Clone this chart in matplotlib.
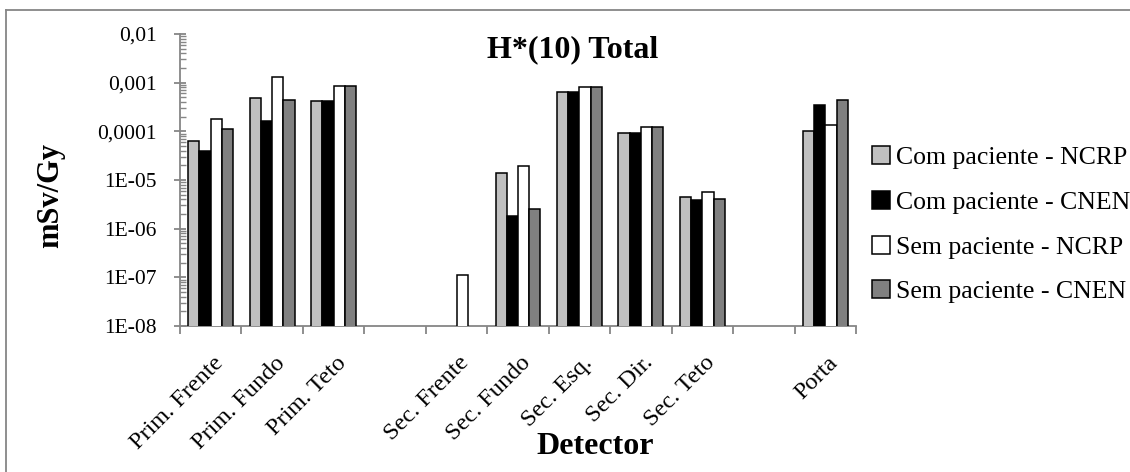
import numpy as np
import matplotlib
matplotlib.use('Agg')
import matplotlib.pyplot as plt
from matplotlib.lines import Line2D
from matplotlib.patches import Patch
from matplotlib.transforms import ScaledTranslation

plt.rcParams['font.family'] = ['Liberation Serif', 'DejaVu Serif']

nan = np.nan

# detectores (slots vazios separam os grupos)
categories = ['Prim. Frente', 'Prim. Fundo', 'Prim. Teto', '',
              'Sec. Frente', 'Sec. Fundo', 'Sec. Esq.', 'Sec. Dir.', 'Sec. Teto', '',
              'Porta']

com_ncrp = [6.4e-5, 4.8e-4, 4.3e-4, nan, nan, 1.4e-5, 6.5e-4, 9.2e-5, 4.4e-6, nan, 1.0e-4]
com_cnen = [4.0e-5, 1.65e-4, 4.3e-4, nan, nan, 1.8e-6, 6.5e-4, 9.4e-5, 3.9e-6, nan, 3.4e-4]
sem_ncrp = [1.8e-4, 1.3e-3, 8.7e-4, nan, 1.1e-7, 1.95e-5, 8.3e-4, 1.25e-4, 5.6e-6, nan, 1.35e-4]
sem_cnen = [1.1e-4, 4.4e-4, 8.7e-4, nan, nan, 2.5e-6, 8.3e-4, 1.25e-4, 4.1e-6, nan, 4.4e-4]

series_names = ['Com paciente - NCRP', 'Com paciente - CNEN',
                'Sem paciente - NCRP', 'Sem paciente - CNEN']

yticks = [1e-8, 1e-7, 1e-6, 1e-5, 1e-4, 1e-3, 1e-2]
ytick_labels = ['1E-08', '1E-07', '1E-06', '1E-05', '0,0001', '0,001', '0,01']

colors = ['#C0C0C0', '#000000', '#FFFFFF', '#808080']

fig = plt.figure(figsize=(11.3, 4.72), dpi=100)
ax = fig.add_axes([180/1130, 1 - 326/472, (856 - 180)/1130, (326 - 34)/472])
ax.set_yscale('log')

x = np.arange(len(categories))
w = 0.183
all_series = [com_ncrp, com_cnen, sem_ncrp, sem_cnen]
for i, (vals, c) in enumerate(zip(all_series, colors)):
    ax.bar(x + (i - 1.5) * w, vals, width=w, color=c, edgecolor='black',
           linewidth=1.1, zorder=3)

ax.set_xlim(-0.5, len(categories) - 0.5)
ax.set_ylim(1e-8, 1e-2)

axis_gray = '#868686'
for s in ['top', 'right']:
    ax.spines[s].set_visible(False)
for s in ['left', 'bottom']:
    ax.spines[s].set_color(axis_gray)
    ax.spines[s].set_linewidth(1.3)

ax.set_yticks(yticks)
ax.set_yticklabels(ytick_labels, fontsize=15.5)
ax.tick_params(axis='y', which='major', direction='inout', length=8,
               width=1.3, color=axis_gray, pad=13)
ax.tick_params(axis='y', which='minor', direction='in', length=4,
               width=1, color=axis_gray)

ax.set_xticks(x)
ax.set_xticklabels(categories, fontsize=17.5, rotation=45, ha='right',
                   rotation_mode='anchor')
ax.set_xticks(np.arange(len(categories) + 1) - 0.5, minor=True)
ax.tick_params(axis='x', which='major', length=0, pad=19)
ax.tick_params(axis='x', which='minor', length=6, width=1.3, color=axis_gray)
for lab in ax.get_xticklabels():
    lab.set_transform(lab.get_transform() + ScaledTranslation(0.02, 0, fig.dpi_scale_trans))

fig.text(573/1130, 1 - 50/472, 'H*(10) Total', fontsize=23, fontweight='bold',
         ha='center', va='center')
fig.text(51/1130, 1 - 195/472, 'mSv/Gy', fontsize=22, fontweight='bold',
         rotation=90, ha='center', va='center')
fig.text(595/1130, 1 - 447/472, 'Detector', fontsize=23, fontweight='bold',
         ha='center', va='center')

handles = [Patch(facecolor=c, edgecolor='black', linewidth=1.1) for c in colors]
fig.legend(handles, series_names, loc='upper left',
           bbox_to_anchor=(872/1130, 1 - 146/472), frameon=False, fontsize=18.5,
           handlelength=0.7, handleheight=0.7, handletextpad=0.25,
           labelspacing=0.85, borderpad=0, borderaxespad=0)

# moldura externa do gráfico
fig.add_artist(Line2D([6/1130, 6/1130], [0, 1 - 10/472], color=axis_gray, lw=1.3))
fig.add_artist(Line2D([6/1130, 1], [1 - 10/472, 1 - 10/472], color=axis_gray, lw=1.3))

fig.savefig('out.png', dpi=100)
